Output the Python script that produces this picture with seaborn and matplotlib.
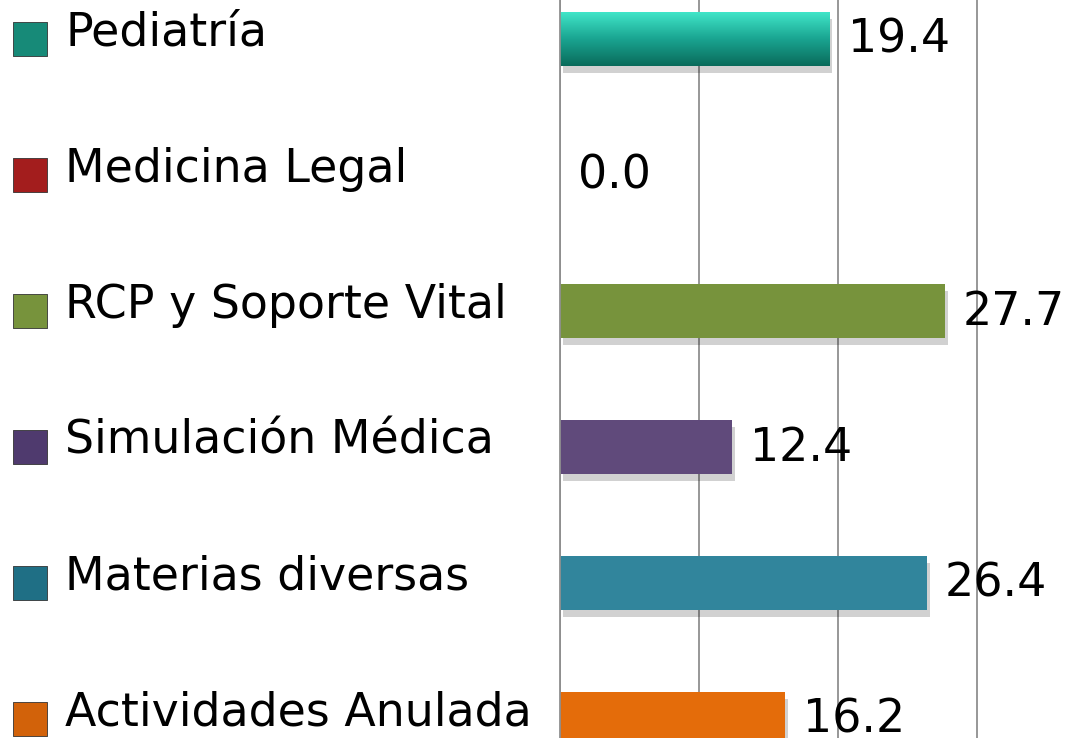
import numpy as np
import pandas as pd
import matplotlib
matplotlib.use("Agg")
import matplotlib.pyplot as plt
import seaborn as sns
from matplotlib import patheffects as pe
from matplotlib.transforms import blended_transform_factory
from matplotlib.colors import LinearSegmentedColormap

categories = ["Pediatría", "Medicina Legal", "RCP y Soporte Vital",
              "Simulación Médica", "Materias diversas", "Actividades Anulada"]
values = [19.4, 0.0, 27.7, 12.4, 26.4, 16.2]
colors = ["#1aa591", "#a31d1d", "#77933c", "#604a7b", "#31859c", "#e46c0a"]
legend_colors = ["#178a78", "#a31d1d", "#77933c", "#4f3a6e", "#1f6f85", "#d2620a"]
value_labels = [f"{v:.1f}" for v in values]
grid_ticks = [0, 10, 20, 30]

sns.set_theme(style="white")
plt.rcParams["font.family"] = ["DejaVu Sans"]

W, H = 1068, 738
fig = plt.figure(figsize=(W / 100, H / 100), dpi=100)
ax = fig.add_axes([560 / W, 0, 1 - 560 / W, 1])

df = pd.DataFrame({"cat": categories, "val": values})
sns.barplot(data=df, x="val", y="cat", hue="cat", palette=colors, orient="h",
            width=0.4, saturation=1, legend=False, ax=ax, zorder=3, linewidth=0)

XMAX = (W - 560) / 139 * 10
YLIM = (5 + 19 / 136, -39 / 136)

# shadows on bars
for p in ax.patches:
    p.set_linewidth(0)
    if p.get_width() > 0:
        p.set_path_effects([pe.SimplePatchShadow(offset=(2, -5), shadow_rgbFace="black", alpha=0.18),
                            pe.Normal()])

# gradient on first bar
p0 = ax.patches[0]
bb = p0.get_bbox()
cmap = LinearSegmentedColormap.from_list("tealgrad", ["#0a6b5b", "#1aa591", "#42e8cb"])
grad = np.linspace(0, 1, 256).reshape(-1, 1)
im = ax.imshow(grad, cmap=cmap, aspect="auto", origin="upper",
               extent=[bb.x0, bb.x1, bb.y0, bb.y1], zorder=4)
im.set_clip_path(p0)
ax.set_xlim(0, XMAX)
ax.set_ylim(*YLIM)

# grid
ax.set_xticks(grid_ticks)
ax.xaxis.grid(True, color="#8f8f8f", lw=1.3, zorder=0)
ax.yaxis.grid(False)
ax.set_axisbelow(True)
ax.tick_params(left=False, bottom=False, labelleft=False, labelbottom=False)
for s in ["top", "right", "bottom"]:
    ax.spines[s].set_visible(False)
ax.spines["left"].set_color("#8f8f8f")
ax.spines["left"].set_linewidth(1.3)
ax.spines["left"].set_zorder(6)
ax.set_xlabel("")
ax.set_ylabel("")

# value labels
for i, (v, lab) in enumerate(zip(values, value_labels)):
    ax.annotate(lab, xy=(v, i), xytext=(13, -1), textcoords="offset points",
                va="center", ha="left", fontsize=33, color="black", zorder=5)

# left legend
tr = blended_transform_factory(fig.transFigure, ax.transData)
ys = np.arange(len(categories))
ax.scatter(np.full(len(categories), 30 / W), ys, s=600, marker="s",
           c=legend_colors, edgecolors="#333333", linewidths=0.6,
           transform=tr, clip_on=False, zorder=5)
for i, c in enumerate(categories):
    ax.annotate(c, xy=(65 / W, i), xycoords=tr, xytext=(0, 4), textcoords="offset points",
                va="center", ha="left", fontsize=33, color="black", annotation_clip=False)

fig.savefig("out.png", dpi=100)
